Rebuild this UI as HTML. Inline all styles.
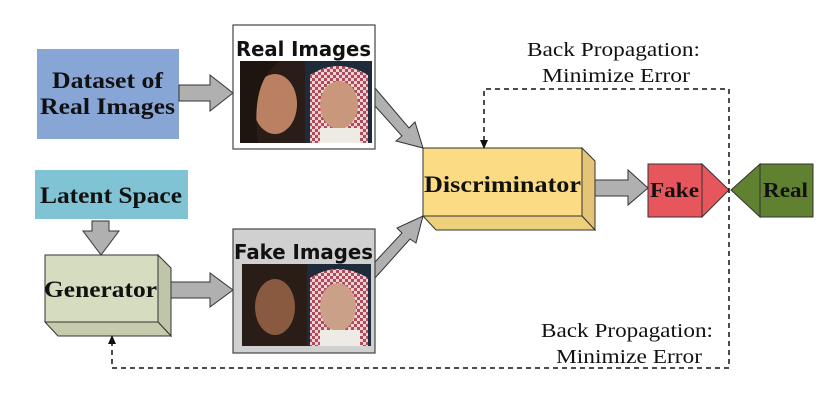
<!DOCTYPE html>
<html><head><meta charset="utf-8"><style>
html,body{margin:0;padding:0;background:#fff;}
svg{display:block;}
.b{font-family:"Liberation Serif",serif;font-weight:bold;fill:#111;}
.s{font-family:"DejaVu Sans",sans-serif;font-weight:bold;fill:#111;}
.n{font-family:"Liberation Serif",serif;fill:#111;font-size:20px;}
</style></head><body>
<svg width="825" height="401" viewBox="0 0 825 401" xmlns="http://www.w3.org/2000/svg">
<defs>
<pattern id="check" width="6" height="6" patternUnits="userSpaceOnUse"><rect width="6" height="6" fill="#e8d6d6"/><rect width="3" height="3" fill="#b04a5a"/><rect x="3" y="3" width="3" height="3" fill="#b04a5a"/></pattern>
</defs>

<!-- Dataset -->
<rect x="37" y="49" width="142" height="90" fill="#87a6d6"/>
<text class="b" font-size="23" x="52" y="88" textLength="111" lengthAdjust="spacingAndGlyphs">Dataset of</text>
<text class="b" font-size="23" x="40" y="114" textLength="135" lengthAdjust="spacingAndGlyphs">Real Images</text>

<!-- Latent -->
<rect x="35" y="170" width="153" height="49" fill="#80c3d4"/>
<text class="b" font-size="23" x="40" y="203" textLength="142" lengthAdjust="spacingAndGlyphs">Latent Space</text>

<!-- arrows -->
<g fill="#b0b0b0" stroke="#333" stroke-width="1">
<polygon points="179,85 210,85 210,75 233,93 210,111 210,101 179,101"/>
<polygon points="171,282 210,282 210,273 233,290 210,307 210,298 171,298"/>
<polygon points="92,221 109,221 109,231 119,231 101,255 83,231 92,231"/>
<polygon points="375,88 409,128 415,122 423,148 396,141 402,136 375,106"/>
<polygon points="375,262 402,233 397,228 423,216 416,243 410,239 375,278"/>
<polygon points="595,180 628,180 628,170 648,188 628,205 628,196 595,196"/>
</g>

<!-- Real images box -->
<rect x="233" y="25" width="142" height="124" fill="#fff" stroke="#444" stroke-width="1.2"/>
<text class="s" font-size="20" x="236" y="56" textLength="135" lengthAdjust="spacingAndGlyphs">Real Images</text>
<rect x="240" y="61" width="65" height="82" fill="#2a1c16"/>
<ellipse cx="275" cy="104" rx="22" ry="30" fill="#b98062"/>
<path d="M240,61 h40 q-30,20 -22,82 h-18z" fill="#1e1410"/>
<rect x="305" y="61" width="67" height="82" fill="#1d2b3a"/>
<path d="M310,75 q28,-18 58,0 v68 h-58z" fill="url(#check)"/>
<ellipse cx="339" cy="105" rx="19" ry="24" fill="#c9987c"/>
<rect x="320" y="128" width="40" height="15" fill="#eeeae4"/>

<!-- Fake images box -->
<rect x="233" y="229" width="142" height="124" fill="#d0d0d0" stroke="#444" stroke-width="1.2"/>
<text class="s" font-size="20" x="234" y="259" textLength="139" lengthAdjust="spacingAndGlyphs">Fake Images</text>
<rect x="242" y="264" width="65" height="82" fill="#2a1c16"/>
<ellipse cx="275" cy="307" rx="20" ry="28" fill="#8a5a40"/>
<rect x="307" y="264" width="64" height="82" fill="#1d2b3a"/>
<path d="M310,278 q28,-18 58,0 v68 h-58z" fill="url(#check)"/>
<ellipse cx="338" cy="307" rx="18" ry="24" fill="#caa088"/>
<rect x="320" y="330" width="40" height="16" fill="#eeeae4"/>

<!-- Generator -->
<g stroke="#333" stroke-width="1">
<polygon points="158,255 171,268 171,336 158,322" fill="#bfc5a8"/>
<polygon points="45,322 158,322 171,336 58,336" fill="#c6cbae"/>
<rect x="45" y="255" width="113" height="67" fill="#d6dcc0"/>
</g>
<text class="b" font-size="23" x="44" y="297" textLength="113" lengthAdjust="spacingAndGlyphs">Generator</text>

<!-- Discriminator -->
<g stroke="#333" stroke-width="1">
<polygon points="582,148 595,161 595,230 582,216" fill="#e4c476"/>
<polygon points="423,216 582,216 595,230 436,230" fill="#eed07a"/>
<rect x="423" y="148" width="159" height="68" fill="#fbdc85"/>
</g>
<text class="b" font-size="23" x="424" y="192" textLength="157" lengthAdjust="spacingAndGlyphs">Discriminator</text>

<!-- Fake / Real -->
<g stroke="#333" stroke-width="1">
<rect x="648" y="164" width="54" height="53" fill="#e8565d"/>
<polygon points="702,164 729,190 702,217" fill="#e8565d"/>
<polygon points="760,164 731,190 760,217" fill="#5f8130"/>
<rect x="760" y="164" width="53" height="53" fill="#5f8130"/>
</g>
<text class="b" font-size="21" x="650" y="197" textLength="49" lengthAdjust="spacingAndGlyphs">Fake</text>
<text class="b" font-size="21" x="763" y="197" textLength="45" lengthAdjust="spacingAndGlyphs">Real</text>

<!-- dashed feedback -->
<g fill="none" stroke="#111" stroke-width="1.5" stroke-dasharray="5,4">
<polyline points="484,141 484,89 729,89 729,368 112,368 112,343"/>
</g>
<polygon points="480,140 488,140 484,149" fill="#111"/>
<polygon points="108,344 116,344 112,335" fill="#111"/>

<text class="n" x="527" y="56" textLength="173" lengthAdjust="spacingAndGlyphs">Back Propagation:</text>
<text class="n" x="542" y="82" textLength="148" lengthAdjust="spacingAndGlyphs">Minimize Error</text>
<text class="n" x="541" y="337" textLength="172" lengthAdjust="spacingAndGlyphs">Back Propagation:</text>
<text class="n" x="556" y="363" textLength="146" lengthAdjust="spacingAndGlyphs">Minimize Error</text>
</svg>
</body></html>
